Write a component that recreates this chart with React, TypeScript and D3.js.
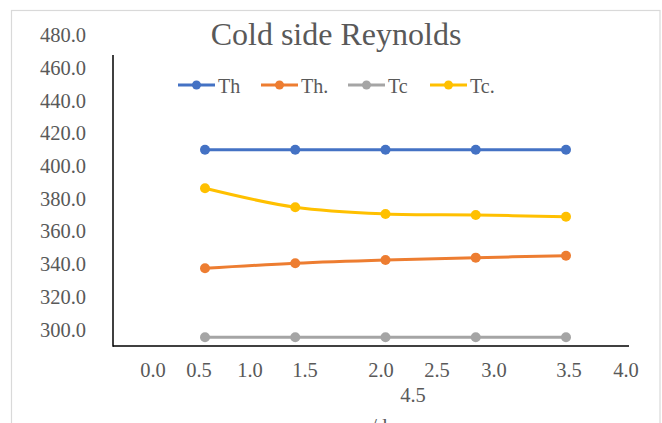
import { useMemo } from "react";
import { scaleLinear, line, curveCatmullRom } from "d3";

// values
const SERIES_NAMES = ["Th", "Th.", "Tc", "Tc."];
const SERIES_COLORS = ["#4472C4", "#ED7D31", "#A5A5A5", "#FFC000"];
const TH_IN = [410, 410, 410, 410, 410];
const TH_OUT = [337.5, 340.6, 342.6, 344.0, 345.2];
const TC_IN = [295.4, 295.4, 295.4, 295.4, 295.4];
const TC_OUT = [386.4, 374.8, 370.7, 370.1, 369.0];
const Y_TICKS = [300, 320, 340, 360, 380, 400, 420, 440, 460, 480];
const X_TICK_LABELS = ["0.0", "0.5", "1.0", "1.5", "2.0", "2.5", "3.0", "3.5", "4.0"];
const X_EXTRA_LABEL = "4.5";

// the category labels in the source are scattered, not on a regular grid
const X_LABEL_POS = [153, 199, 250, 305, 381, 437, 494, 569, 626];

const WIDTH = 662;
const HEIGHT = 423;
const PLOT = { left: 113, right: 629, top: 55, bottom: 346 };
const TEXT = "#595959";
const FONT = "'Liberation Serif', 'Times New Roman', serif";

export default function App() {
  const series = [TH_IN, TH_OUT, TC_IN, TC_OUT];

  const xScale = useMemo(
    () => scaleLinear().domain([0, TH_IN.length - 1]).range([PLOT.left + 92, PLOT.right - 63]),
    []
  );
  const yScale = useMemo(
    () => scaleLinear().domain([290, 480]).range([PLOT.bottom, PLOT.bottom - 190 * 1.636]),
    []
  );

  const path = line<number>()
    .x((_, i) => xScale(i))
    .y((d) => yScale(d))
    .curve(curveCatmullRom.alpha(0.5));

  const legendX = [178, 261, 348, 430];

  return (
    <svg
      width={WIDTH}
      height={HEIGHT}
      style={{ position: "absolute", left: 0, top: 0, background: "#fff" }}
      fontFamily={FONT}
    >
      <defs>
        <clipPath id="legend-clip">
          <rect x={0} y={0} width={WIDTH} height={94} />
        </clipPath>
      </defs>
      <rect x={11.5} y={10.5} width={648.5} height={500} fill="#fff" stroke="#d9d9d9" strokeWidth={1.2} />

      <text x={336} y={45} textAnchor="middle" fontSize={32} fill={TEXT}>
        Cold side Reynolds
      </text>

      {/* y labels */}
      {Y_TICKS.map((t) => (
        <text
          key={t}
          x={86}
          y={yScale(t)}
          textAnchor="end"
          dominantBaseline="central"
          fontSize={20.5}
          fill={TEXT}
        >
          {t.toFixed(1)}
        </text>
      ))}

      {/* x labels */}
      {X_TICK_LABELS.map((t, i) => (
        <text
          key={t}
          x={X_LABEL_POS[i]}
          y={370}
          textAnchor="middle"
          dominantBaseline="central"
          fontSize={20.5}
          fill={TEXT}
        >
          {t}
        </text>
      ))}
      <text x={413} y={395} textAnchor="middle" dominantBaseline="central" fontSize={20.5} fill={TEXT}>
        {X_EXTRA_LABEL}
      </text>
      <text x={361} y={433} fontSize={20.5} fill={TEXT}>
        x/d
      </text>

      {/* axes */}
      <line x1={PLOT.left} x2={PLOT.left} y1={PLOT.top} y2={PLOT.bottom + 0.75} stroke="#000" strokeWidth={1.5} />
      <line x1={PLOT.left} x2={PLOT.right} y1={PLOT.bottom} y2={PLOT.bottom} stroke="#000" strokeWidth={1.5} />

      {/* series */}
      {series.map((vals, si) => (
        <g key={si}>
          <path d={path(vals) ?? ""} fill="none" stroke={SERIES_COLORS[si]} strokeWidth={3} />
          {vals.map((v, i) => (
            <circle key={i} cx={xScale(i)} cy={yScale(v)} r={5} fill={SERIES_COLORS[si]} />
          ))}
        </g>
      ))}

      {/* legend */}
      <g clipPath="url(#legend-clip)">
        {SERIES_NAMES.map((name, i) => (
          <g key={name} transform={`translate(${legendX[i]},85)`}>
            <line x1={0} x2={37} y1={0} y2={0} stroke={SERIES_COLORS[i]} strokeWidth={3} />
            <circle cx={18.5} cy={0} r={4.5} fill={SERIES_COLORS[i]} />
            <text x={40} y={93 - 85} fontSize={20} fill={TEXT}>
              {name}
            </text>
          </g>
        ))}
      </g>
    </svg>
  );
}
